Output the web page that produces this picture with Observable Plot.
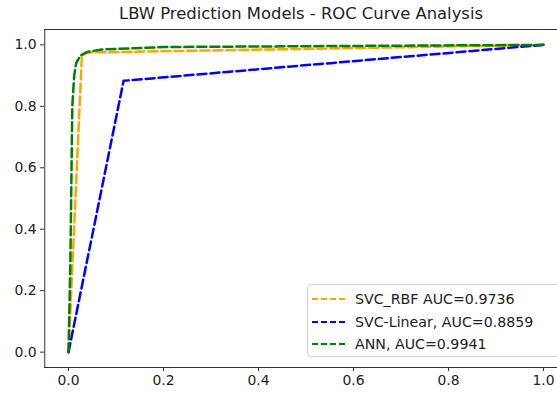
<!DOCTYPE html>
<html>
<head>
<meta charset="utf-8">
<script src="https://cdn.jsdelivr.net/npm/d3@7"></script>
<script src="https://cdn.jsdelivr.net/npm/@observablehq/plot@0.6"></script>
<style>
  html, body { margin: 0; padding: 0; background: #fff; }
  #wrap { position: relative; width: 557px; height: 396px; font-family: "DejaVu Sans", sans-serif; overflow: hidden; }
  #title { position: absolute; left: 0; top: 4px; width: 602px; text-align: center; font-size: 16.4px; color: #222; }
  #legend { position: absolute; left: 307px; top: 284px; width: 262px; height: 73px; border: 1px solid #d0d0d0; border-radius: 4px; background: rgba(255,255,255,0.85); box-sizing: border-box; }
  .row { position: absolute; left: 4px; height: 20px; display: flex; align-items: center; font-size: 14.2px; color: #222; }
  .swatch { width: 33px; height: 0; border-top: 2.5px dashed; margin-right: 10px; }
</style>
</head>
<body>
<div id="wrap">
  <div id="chart"></div>
  <div id="title"></div>
  <div id="legend"></div>
</div>
<script>
const title = "LBW Prediction Models - ROC Curve Analysis";
const seriesNames = ["SVC_RBF AUC=0.9736", "SVC-Linear, AUC=0.8859", "ANN, AUC=0.9941"];
const seriesColors = ["orange", "blue", "green"];
const rbfFpr = [0, 0.028, 0.036, 1];
const rbfTpr = [0, 0.96, 0.975, 1];
const linFpr = [0, 0.116, 1];
const linTpr = [0, 0.883, 1];
const annFpr = [0, 0.004, 0.008, 0.012, 0.016, 0.025, 0.04, 0.07, 0.2, 1];
const annTpr = [0, 0.3, 0.8, 0.9, 0.94, 0.965, 0.977, 0.985, 0.993, 1];
const xTicks = [0, 0.2, 0.4, 0.6, 0.8, 1.0];
const yTicks = [0, 0.2, 0.4, 0.6, 0.8, 1.0];

const toRows = (fpr, tpr, s) => fpr.map((f, i) => ({fpr: f, tpr: tpr[i], s}));
const series = [toRows(rbfFpr, rbfTpr, 0), toRows(linFpr, linTpr, 1), toRows(annFpr, annTpr, 2)];

document.getElementById("title").textContent = title;

const chart = Plot.plot({
  width: 557,
  height: 396,
  marginTop: 29,
  marginBottom: 29,
  marginLeft: 44,
  marginRight: 0,
  style: {fontFamily: "DejaVu Sans, sans-serif", fontSize: "13.9px", color: "#222", background: "#fff"},
  x: {domain: [-0.05, 1.05], range: [44.25, 566.75]},
  y: {domain: [-0.05, 1.05]},
  marks: [
    ...series.map((rows, i) => Plot.line(rows, {
      x: "fpr", y: "tpr", stroke: seriesColors[i], strokeWidth: 2.5, strokeDasharray: "9,4"
    })),
    Plot.ruleX([-0.05], {stroke: "#333", strokeWidth: 1}),
    Plot.ruleY([-0.05, 1.05], {stroke: "#333", strokeWidth: 1}),
    Plot.axisX({ticks: xTicks, tickFormat: d3.format(".1f"), tickSize: 4, tickPadding: 4, label: null, stroke: "#333"}),
    Plot.axisY({ticks: yTicks, tickFormat: d3.format(".1f"), tickSize: 4, tickPadding: 4, label: null, stroke: "#333"})
  ]
});
document.getElementById("chart").appendChild(chart);

const legend = document.getElementById("legend");
seriesNames.forEach((name, i) => {
  const row = document.createElement("div");
  row.className = "row";
  row.style.top = (4 + i * 22.5) + "px";
  const sw = document.createElement("div");
  sw.className = "swatch";
  sw.style.borderTopColor = seriesColors[i];
  const t = document.createElement("span");
  t.textContent = name;
  row.appendChild(sw);
  row.appendChild(t);
  legend.appendChild(row);
});
</script>
</body>
</html>
